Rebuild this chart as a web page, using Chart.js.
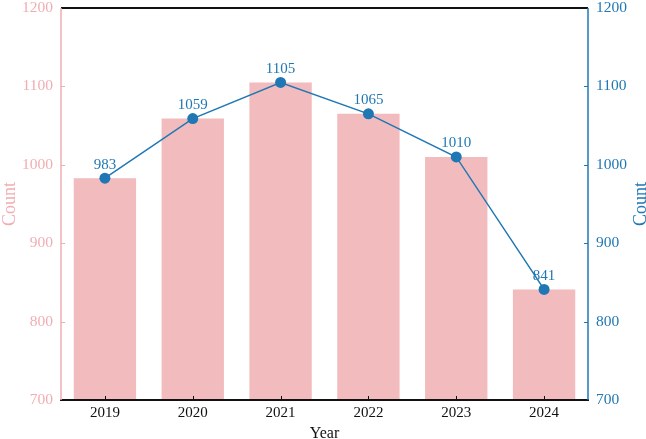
<!DOCTYPE html>
<html>
<head>
<meta charset="utf-8">
<script src="https://cdn.jsdelivr.net/npm/chart.js@4"></script>
<style>
  html, body { margin: 0; padding: 0; background: #fff; }
  #wrap { width: 646px; height: 439px; }
</style>
</head>
<body>
<div id="wrap"><canvas id="c" width="646" height="439"></canvas></div>
<script>
const years = ['2019', '2020', '2021', '2022', '2023', '2024'];
const barCounts = [983, 1059, 1105, 1065, 1010, 841];
const lineCounts = [983, 1059, 1105, 1065, 1010, 841];
const yTicks = [700, 800, 900, 1000, 1100, 1200];

const PINK = '#F2BBBE';
const PINK_TEXT = '#F1AEB2';
const BLUE = '#1f77b4';
const FONT = "'Liberation Serif', 'Times New Roman', serif";

const framePlugin = {
  id: 'frame',
  afterDatasetsDraw(chart) {
    const ctx = chart.ctx;
    const a = chart.chartArea;
    const x = chart.scales.x, yl = chart.scales.y, yr = chart.scales.y2;
    ctx.save();
    ctx.lineWidth = 1;
    ctx.strokeStyle = PINK_TEXT;
    yTicks.forEach(v => { const p = Math.round(yl.getPixelForValue(v)) + 0.5; ctx.beginPath(); ctx.moveTo(a.left, p); ctx.lineTo(a.left + 4, p); ctx.stroke(); });
    ctx.strokeStyle = BLUE;
    yTicks.forEach(v => { const p = Math.round(yr.getPixelForValue(v)) + 0.5; ctx.beginPath(); ctx.moveTo(a.right, p); ctx.lineTo(a.right - 4, p); ctx.stroke(); });
    ctx.strokeStyle = '#111';
    years.forEach((c, i) => { const p = Math.round(x.getPixelForValue(i)) + 0.5; ctx.beginPath(); ctx.moveTo(p, a.bottom); ctx.lineTo(p, a.bottom - 4); ctx.stroke(); });
    ctx.lineWidth = 2;
    ctx.strokeStyle = '#111';
    ctx.beginPath(); ctx.moveTo(a.left, a.top); ctx.lineTo(a.right, a.top); ctx.stroke();
    ctx.beginPath(); ctx.moveTo(a.left - 1, a.bottom); ctx.lineTo(a.right + 1, a.bottom); ctx.stroke();
    ctx.lineWidth = 1.5;
    ctx.strokeStyle = PINK_TEXT;
    ctx.beginPath(); ctx.moveTo(a.left, a.top); ctx.lineTo(a.left, a.bottom); ctx.stroke();
    ctx.strokeStyle = BLUE;
    ctx.beginPath(); ctx.moveTo(a.right, a.top); ctx.lineTo(a.right, a.bottom); ctx.stroke();
    ctx.restore();
  },
  afterDraw(chart) {
    const ctx = chart.ctx;
    const a = chart.chartArea;
    const meta = chart.getDatasetMeta(1);
    ctx.save();
    ctx.font = '15px ' + FONT;
    ctx.fillStyle = BLUE;
    ctx.textAlign = 'center';
    ctx.textBaseline = 'alphabetic';
    meta.data.forEach((pt, i) => {
      ctx.fillText(String(lineCounts[i]), pt.x, pt.y - 9.5);
    });
    const cy = (a.top + a.bottom) / 2;
    ctx.textBaseline = 'middle';
    ctx.font = '18px ' + FONT;
    ctx.fillStyle = PINK_TEXT;
    ctx.translate(10, cy); ctx.rotate(-Math.PI / 2); ctx.fillText('Count', 0, 0);
    ctx.setTransform(1, 0, 0, 1, 0, 0);
    ctx.fillStyle = BLUE;
    ctx.translate(641, cy); ctx.rotate(-Math.PI / 2); ctx.fillText('Count', 0, 0);
    ctx.restore();
  }
};

function fixV(width) {
  return function (s) { s.width = width; s.paddingTop = 0; s.paddingBottom = 0; };
}

new Chart(document.getElementById('c'), {
  data: {
    labels: years,
    datasets: [
      {
        type: 'bar',
        data: barCounts,
        backgroundColor: PINK,
        borderWidth: 0,
        barPercentage: 0.71,
        categoryPercentage: 1.0,
        yAxisID: 'y',
        order: 2
      },
      {
        type: 'line',
        data: lineCounts,
        borderColor: BLUE,
        backgroundColor: BLUE,
        borderWidth: 1.5,
        pointRadius: 5.5,
        pointHoverRadius: 5.5,
        pointBackgroundColor: BLUE,
        pointBorderWidth: 0,
        tension: 0,
        yAxisID: 'y2',
        order: 1
      }
    ]
  },
  options: {
    responsive: false,
    animation: false,
    devicePixelRatio: 1,
    layout: { padding: { top: 8, left: 0, right: 0, bottom: 0 } },
    plugins: { legend: { display: false }, tooltip: { enabled: false } },
    scales: {
      x: {
        grid: { display: false, drawTicks: false },
        border: { display: false },
        ticks: { color: '#111', font: { family: FONT, size: 15 }, padding: 4, maxRotation: 0 },
        title: { display: true, text: 'Year', color: '#111', font: { family: FONT, size: 16 }, padding: { top: 0, bottom: -4 } },
        afterFit(s) { s.height = 39; s.paddingLeft = 0; s.paddingRight = 0; }
      },
      y: {
        position: 'left',
        min: 700, max: 1200,
        afterBuildTicks(s) { s.ticks = yTicks.map(v => ({ value: v })); },
        grid: { display: false, drawTicks: false },
        border: { display: false },
        ticks: { color: PINK_TEXT, font: { family: FONT, size: 15.5 }, padding: 8, callback: v => String(v) },
        title: { display: false },
        afterFit: fixV(61)
      },
      y2: {
        position: 'right',
        min: 700, max: 1200,
        afterBuildTicks(s) { s.ticks = yTicks.map(v => ({ value: v })); },
        grid: { display: false, drawTicks: false },
        border: { display: false },
        ticks: { color: BLUE, font: { family: FONT, size: 15.5 }, padding: 8, callback: v => String(v) },
        title: { display: false },
        afterFit: fixV(58)
      }
    }
  },
  plugins: [framePlugin]
});
</script>
</body>
</html>
